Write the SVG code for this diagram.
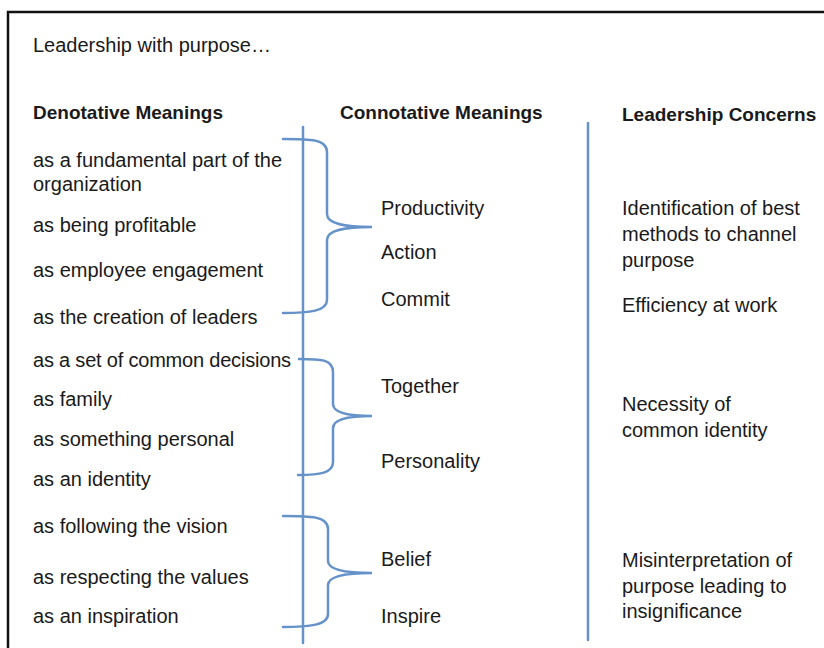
<svg xmlns="http://www.w3.org/2000/svg" width="824" height="648" viewBox="0 0 824 648">
  <style>
    text { font-family: "Liberation Sans", Arial, sans-serif; font-size: 20px; fill: #1a1a1a; }
    .hd { font-weight: bold; font-size: 19px; }
    .tight { letter-spacing: -0.2px; }
    .frame { fill: none; stroke: #111; stroke-width: 2.5; }
    .rule { fill: none; stroke: #6593c9; stroke-width: 2.5; stroke-linecap: round; }
  </style>
  <rect width="824" height="648" fill="#fff"/>

  <!-- outer frame (open on right and bottom) -->
  <path class="frame" d="M8,648 V12 H824"/>

  <g id="title">
    <text x="33" y="52">Leadership with purpose…</text>
  </g>

  <g id="headers">
    <text class="hd" x="33" y="119">Denotative Meanings</text>
    <text class="hd" x="340" y="119">Connotative Meanings</text>
    <text class="hd" x="622" y="121">Leadership Concerns</text>
  </g>

  <g id="denotative">
    <text x="33" y="167">as a fundamental part of the</text>
    <text x="33" y="191">organization</text>
    <text x="33" y="232">as being profitable</text>
    <text x="33" y="277">as employee engagement</text>
    <text x="33" y="324">as the creation of leaders</text>
    <text class="tight" x="33" y="367">as a set of common decisions</text>
    <text x="33" y="406">as family</text>
    <text x="33" y="446">as something personal</text>
    <text x="33" y="486">as an identity</text>
    <text x="33" y="533">as following the vision</text>
    <text x="33" y="584">as respecting the values</text>
    <text x="33" y="623">as an inspiration</text>
  </g>

  <g id="connotative">
    <text x="381" y="215">Productivity</text>
    <text x="381" y="259">Action</text>
    <text x="381" y="306">Commit</text>
    <text x="381" y="393">Together</text>
    <text x="381" y="468">Personality</text>
    <text x="381" y="566">Belief</text>
    <text x="381" y="623">Inspire</text>
  </g>

  <g id="concerns">
    <text x="622" y="215">Identification of best</text>
    <text x="622" y="241">methods to channel</text>
    <text x="622" y="267">purpose</text>
    <text x="622" y="312">Efficiency at work</text>
    <text x="622" y="411">Necessity of</text>
    <text x="622" y="437">common identity</text>
    <text x="622" y="567">Misinterpretation of</text>
    <text x="622" y="593">purpose leading to</text>
    <text x="622" y="618">insignificance</text>
  </g>

  <g id="connectors">
    <!-- column dividers -->
    <line class="rule" x1="303" y1="127" x2="303" y2="643"/>
    <line class="rule" x1="588" y1="123" x2="588" y2="640"/>
    <!-- curly braces grouping meanings -->
    <path class="rule" d="M283,139 C310,139 327,139 327,152 V214 C327,224 345,227 372,227 C345,227 327,230 327,240 V300 C327,311 310,313 283,313"/>
    <path class="rule" d="M299,359 C320,359 333,359 333,372 V404 C333,413 350,416 372,416 C350,416 333,419 333,428 V462 C333,473 320,475 298,475"/>
    <path class="rule" d="M283,516 C310,516 328,516 328,529 V561 C328,570 346,573 372,573 C346,573 328,576 328,585 V614 C328,625 310,627 283,627"/>
  </g>
</svg>
